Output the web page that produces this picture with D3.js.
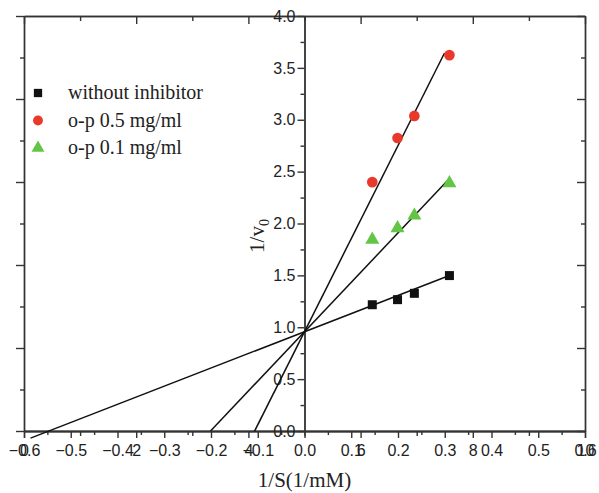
<!DOCTYPE html>
<html>
<head>
<meta charset="utf-8">
<script src="https://cdn.jsdelivr.net/npm/d3@7"></script>
<style>
  body { margin: 0; background: #fff; }
  svg text { fill: #222; }
</style>
</head>
<body>
<svg id="chart" width="599" height="493"></svg>
<script>
// Lineweaver-Burk data: 1/S (1/mM) and 1/v0 for each condition
const invS = [0.145, 0.199, 0.235, 0.310];
const withoutInhibitor = [1.217, 1.266, 1.327, 1.498];
const op05 = [2.399, 2.824, 3.037, 3.623];
const op01 = [1.845, 1.955, 2.077, 2.389];
const seriesNames = ["without inhibitor", "o-p 0.5 mg/ml", "o-p 0.1 mg/ml"];

// fitted lines: shared intercept, slope per series, drawn span along 1/S
const fitIntercept = 0.957;
const fitSlopes = [1.75, 8.97, 4.76];
const fitFrom = [-0.586, -0.107, -0.201];
const fitTo = [0.310, 0.2995, 0.306];

// tick values
const xTicks = [-0.6, -0.5, -0.4, -0.3, -0.2, -0.1, 0.0, 0.1, 0.2, 0.3, 0.4, 0.5, 0.6];
const xMinorTicks = [-0.55, -0.45, -0.35, -0.25, -0.15, -0.05, 0.05, 0.15, 0.25, 0.35, 0.45, 0.55];
const yTicks = [0.0, 0.5, 1.0, 1.5, 2.0, 2.5, 3.0, 3.5, 4.0];
const yMinorTicks = [0.25, 0.75, 1.25, 1.75, 2.25, 2.75, 3.25, 3.75];
const xAltTicks = [0, 2, 4, 6, 8, 10];
const xAltMinorTicks = [1, 3, 5, 7, 9];
const frameTicks = [0, 2, 4, 6, 8, 10];
const frameMinorTicks = [1, 3, 5, 7, 9];

const colors = ["#111111", "#e8392b", "#62c545"];
const symbols = [d3.symbolSquare, d3.symbolCircle, d3.symbolTriangle];
const symbolSizes = [81, 90, 85];

const svg = d3.select("#chart");
const L = 24, R = 585, T = 16, B = 431;

const x = d3.scaleLinear().domain([-0.6, 0.6]).range([L, R]);
const y = d3.scaleLinear().domain([0, 4]).range([B, T]);
const xAlt = d3.scaleLinear().domain([0, 10]).range([L, R]);
const yFrame = d3.scaleLinear().domain([0, 10]).range([B, T]);

const stroke = "#333";
const sw = 1.4;
const tickFont = "16px 'Liberation Sans', Arial, sans-serif";

function styleAxis(g) {
  g.selectAll("path.domain").attr("stroke", stroke).attr("stroke-width", sw);
  g.selectAll(".tick line").attr("stroke", stroke).attr("stroke-width", sw);
  g.selectAll(".tick text").style("font", tickFont).attr("fill", "#222");
}

// left frame (ticks outward)
svg.append("g").attr("transform", `translate(${L},0)`)
  .call(d3.axisLeft(yFrame).tickValues(frameMinorTicks).tickSize(4).tickSizeOuter(0).tickFormat(""))
  .call(styleAxis);
svg.append("g").attr("transform", `translate(${L},0)`)
  .call(d3.axisLeft(yFrame).tickValues(frameTicks).tickSize(8).tickSizeOuter(0).tickFormat(""))
  .call(styleAxis);

// right frame (ticks inward)
svg.append("g").attr("transform", `translate(${R},0)`)
  .call(d3.axisLeft(yFrame).tickValues(frameMinorTicks).tickSize(4).tickSizeOuter(0).tickFormat(""))
  .call(styleAxis);
svg.append("g").attr("transform", `translate(${R},0)`)
  .call(d3.axisLeft(yFrame).tickValues(frameTicks).tickSize(8).tickSizeOuter(0).tickFormat(""))
  .call(styleAxis);

// top frame (ticks inward)
svg.append("g").attr("transform", `translate(0,${T})`)
  .call(d3.axisBottom(xAlt).tickValues(xAltMinorTicks).tickSize(5).tickSizeOuter(0).tickFormat(""))
  .call(styleAxis);
svg.append("g").attr("transform", `translate(0,${T})`)
  .call(d3.axisBottom(xAlt).tickValues(xAltTicks).tickSize(8).tickSizeOuter(0).tickFormat(""))
  .call(styleAxis);

// bottom axis: 1/S scale
svg.append("g").attr("transform", `translate(0,${B})`)
  .call(d3.axisBottom(x).tickValues(xMinorTicks).tickSize(4).tickSizeOuter(0).tickFormat(""))
  .call(styleAxis);
svg.append("g").attr("transform", `translate(0,${B})`)
  .call(d3.axisBottom(x).tickValues(xTicks).tickSize(7).tickPadding(7).tickSizeOuter(0).tickFormat(d3.format(".1f")))
  .call(styleAxis);

// bottom axis: secondary scale sharing the same line
svg.append("g").attr("transform", `translate(0,${B})`)
  .call(d3.axisBottom(xAlt).tickValues(xAltMinorTicks).tickSize(5).tickSizeOuter(0).tickFormat(""))
  .call(styleAxis);
svg.append("g").attr("transform", `translate(0,${B})`)
  .call(d3.axisBottom(xAlt).tickValues(xAltTicks).tickSize(7).tickPadding(7).tickSizeOuter(0).tickFormat(d3.format("d")))
  .call(styleAxis);

// inner y axis at 1/S = 0
svg.append("g").attr("transform", `translate(${x(0)},0)`)
  .call(d3.axisLeft(y).tickValues(yMinorTicks).tickSize(4).tickSizeOuter(0).tickFormat(""))
  .call(styleAxis);
svg.append("g").attr("transform", `translate(${x(0)},0)`)
  .call(d3.axisLeft(y).tickValues(yTicks).tickSize(7).tickPadding(2).tickSizeOuter(0).tickFormat(d3.format(".1f")))
  .call(styleAxis);

// fitted lines
const fits = fitSlopes.map((s, i) => [
  [fitFrom[i], fitIntercept + s * fitFrom[i]],
  [fitTo[i], fitIntercept + s * fitTo[i]]
]);
svg.append("g").selectAll("line").data(fits).join("line")
  .attr("x1", d => x(d[0][0])).attr("y1", d => y(d[0][1]))
  .attr("x2", d => x(d[1][0])).attr("y2", d => y(d[1][1]))
  .attr("stroke", "#111").attr("stroke-width", 1.5);

// data points
const series = [withoutInhibitor, op05, op01];
series.forEach((vals, i) => {
  svg.append("g").selectAll("path").data(vals).join("path")
    .attr("d", d3.symbol().type(symbols[i]).size(symbolSizes[i]))
    .attr("transform", (d, j) => `translate(${x(invS[j])},${y(d)})`)
    .attr("fill", colors[i]);
});

// legend
const legend = svg.append("g");
seriesNames.forEach((name, i) => {
  const cy = 93 + i * 27.5;
  legend.append("path")
    .attr("d", d3.symbol().type(symbols[i]).size(symbolSizes[i] * 0.85))
    .attr("transform", `translate(38,${cy})`)
    .attr("fill", colors[i]);
  legend.append("text")
    .attr("x", 68).attr("y", cy + 6)
    .style("font", "20px 'Liberation Serif', 'Times New Roman', serif")
    .text(name);
});

// axis titles
svg.append("text")
  .attr("x", x(0)).attr("y", 487)
  .attr("text-anchor", "middle")
  .style("font", "21px 'Liberation Serif', 'Times New Roman', serif")
  .text("1/S(1/mM)");

const yTitle = svg.append("text")
  .attr("transform", `translate(264,236) rotate(-90)`)
  .attr("text-anchor", "middle")
  .style("font", "21px 'Liberation Serif', 'Times New Roman', serif");
yTitle.append("tspan").text("1/v");
yTitle.append("tspan").attr("dy", 5).style("font-size", "14px").text("0");
</script>
</body>
</html>
